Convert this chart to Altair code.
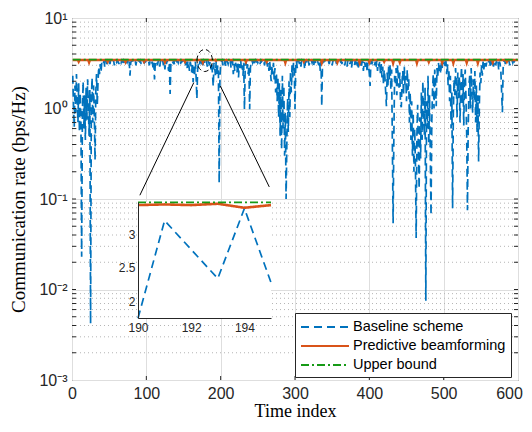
import altair as alt
import pandas as pd

# ---------------- data ----------------
TIME = list(range(1, 601))

BASELINE = [
    2.3, 1.1, 0.62, 1.8, 0.9, 2.4, 1.3, 0.7, 1.9, 0.55,
    1.5, 0.8, 0.023, 0.9, 2.0, 0.6, 1.4, 0.45, 1.7, 0.75,
    2.1, 1.0, 0.5, 1.6, 0.0042, 1.2, 2.2, 0.7, 1.8, 0.9,
    0.27, 1.5, 2.4, 1.1, 2.0, 2.9, 2.4, 3.1, 2.5, 3.2,
    3.3, 3.1, 3.35, 2.9, 3.4, 3.2, 3.3, 3.0, 3.4, 3.35,
    3.1, 3.4, 3.3, 3.2, 3.4, 3.38, 3.0, 3.3, 3.4, 3.25,
    3.4, 3.3, 3.1, 3.4, 3.35, 3.2, 3.4, 3.3, 3.4, 3.0,
    3.35, 3.4, 3.3, 3.2, 3.4, 3.1, 3.3, 2.3, 3.2, 3.4,
    3.35, 3.4, 3.2, 3.3, 3.4, 3.0, 3.4, 3.35, 3.2, 3.4,
    3.3, 3.4, 3.1, 3.35, 3.4, 3.3, 3.2, 3.4, 3.3, 3.4,
    3.4, 3.2, 3.35, 3.0, 3.3, 3.4, 3.1, 3.3, 2.8, 3.2,
    2.1, 3.1, 3.4, 3.3, 3.0, 3.35, 3.4, 2.9, 3.3, 3.4,
    3.2, 3.4, 3.0, 3.3, 2.7, 3.35, 3.1, 3.4, 3.0, 2.6,
    3.2, 1.45, 3.1, 3.4, 3.3, 3.2, 3.4, 3.0, 3.35, 3.4,
    3.3, 3.4, 3.2, 3.4, 3.35, 3.1, 3.4, 3.3, 3.4, 3.2,
    3.35, 3.4, 3.0, 3.3, 2.8, 3.4, 3.1, 2.6, 3.3, 3.0,
    2.5, 3.2, 1.95, 2.9, 2.4, 3.3, 2.2, 1.28, 2.7, 3.1,
    2.9, 3.3, 3.4, 3.2, 3.35, 3.0, 3.4, 3.3, 3.1, 3.4,
    3.3, 2.9, 3.4, 3.2, 3.0, 3.35, 2.7, 3.2, 2.4, 1.75,
    3.2, 2.77, 2.34, 3.38, 2.28, 3.0, 2.5, 0.15, 2.2, 3.1,
    3.3, 3.4, 3.0, 3.35, 3.2, 3.4, 2.9, 3.4, 3.3, 3.1,
    3.35, 3.2, 3.4, 2.8, 3.3, 3.4, 2.4, 3.1, 2.6, 3.2,
    3.0, 2.5, 3.3, 2.2, 3.1, 2.8, 3.4, 2.6, 3.0, 2.3,
    3.2, 0.98, 2.9, 3.3, 2.7, 3.1, 2.4, 3.0, 0.98, 2.8,
    3.3, 3.4, 3.2, 3.4, 3.35, 3.0, 3.4, 3.3, 3.4, 3.2,
    3.35, 3.4, 3.1, 3.4, 3.3, 3.4, 3.2, 3.35, 3.0, 3.4,
    3.3, 3.4, 2.9, 3.2, 2.6, 3.3, 2.5, 2.0, 3.0, 2.4,
    3.2, 2.1, 2.8, 1.5, 2.5, 1.2, 2.2, 0.8, 1.9, 0.5,
    1.6, 0.35, 2.3, 0.6, 1.8, 0.3, 0.9, 0.1, 0.4, 1.3,
    0.55, 2.0, 0.8, 2.6, 1.5, 3.0, 2.2, 3.2, 2.8, 0.98,
    3.1, 3.4, 2.8, 3.3, 3.4, 3.1, 3.35, 2.9, 3.4, 3.3,
    3.2, 3.4, 2.7, 3.3, 3.4, 3.1, 3.4, 3.35, 3.0, 3.4,
    3.3, 3.4, 3.2, 3.4, 2.9, 3.35, 3.4, 3.1, 3.3, 3.4,
    3.2, 3.0, 3.4, 2.6, 3.3, 1.06, 3.2, 3.4, 3.3, 3.4,
    3.4, 3.3, 3.2, 3.4, 3.35, 3.1, 3.4, 3.3, 3.4, 3.0,
    3.35, 3.4, 3.2, 3.4, 3.3, 3.1, 3.4, 3.35, 3.2, 3.4,
    3.3, 3.4, 3.1, 3.35, 3.4, 3.2, 3.0, 3.4, 3.3, 2.9,
    3.4, 3.2, 3.35, 3.1, 3.4, 2.8, 3.3, 3.4, 3.2, 3.0,
    3.4, 2.9, 3.3, 3.1, 2.7, 3.35, 3.0, 3.4, 2.8, 3.2,
    3.4, 2.6, 3.3, 3.1, 2.9, 3.4, 2.5, 3.2, 3.0, 2.4,
    1.77, 3.1, 3.4, 3.2, 3.35, 3.4, 3.0, 3.3, 2.8, 3.4,
    2.6, 3.2, 2.9, 3.35, 2.4, 3.1, 2.2, 2.9, 1.9, 2.7,
    2.2, 1.5, 1.06, 2.5, 1.8, 2.9, 2.1, 3.1, 1.6, 2.7,
    0.4, 0.054, 0.5, 2.3, 1.9, 2.8, 1.4, 3.0, 2.2, 1.7,
    2.5, 1.1, 1.03, 2.0, 2.6, 1.4, 2.9, 1.8, 2.3, 1.2,
    2.7, 1.6, 2.1, 0.7, 1.5, 0.45, 1.2, 0.3, 0.9, 0.2,
    0.6, 0.25, 0.037, 0.5, 1.1, 0.35, 0.13, 0.8, 0.28, 1.5,
    0.45, 2.0, 0.9, 0.5, 1.7, 0.0075, 1.2, 0.6, 2.3, 0.4,
    1.4, 0.3, 0.066, 0.7, 1.6, 2.4, 1.0, 2.7, 1.9, 1.06,
    2.8, 2.2, 3.2, 2.6, 3.0, 2.4, 3.3, 2.8, 3.4, 3.1,
    3.3, 2.9, 3.4, 2.4, 3.1, 1.8, 2.7, 1.2, 2.3, 0.6,
    1.5, 0.079, 0.9, 2.1, 1.4, 2.8, 1.9, 0.8, 2.5, 1.3,
    2.2, 0.7, 1.8, 2.9, 1.1, 2.4, 0.65, 1.9, 2.7, 1.3,
    0.5, 0.075, 0.6, 1.7, 2.3, 1.0, 2.8, 1.5, 0.9, 2.1,
    1.2, 2.6, 0.7, 1.8, 0.55, 1.4, 0.26, 1.1, 2.5, 1.9,
    3.0, 2.3, 3.3, 2.7, 3.1, 3.4, 2.9, 3.3, 3.4, 3.2,
    3.4, 3.3, 2.8, 3.35, 3.1, 3.4, 2.9, 3.3, 3.4, 3.0,
    3.35, 3.2, 3.4, 2.7, 3.3, 3.1, 2.5, 1.5, 0.91, 2.8,
    3.3, 3.4, 3.1, 3.35, 3.4, 3.2, 3.4, 3.3, 3.0, 3.4,
    3.35, 3.4, 3.2, 3.4, 3.3, 3.4, 3.35, 3.4, 3.3, 3.4,
]
assert len(BASELINE) == 600, len(BASELINE)

PRED_LEVEL = 3.43
PRED_DIPS = {
    9: 3.3, 23: 3.25, 48: 3.3, 72: 3.28, 97: 3.3, 125: 3.27, 152: 3.3, 176: 3.25,
    190: 3.43, 191: 3.44, 192: 3.43, 193: 3.45, 194: 3.39, 195: 3.43,
    234: 3.28, 262: 3.3, 287: 3.22, 312: 3.3, 336: 3.22, 357: 3.25, 387: 3.22,
    400: 3.25, 420: 3.3, 432: 3.2, 441: 3.25, 464: 3.2, 480: 3.28, 498: 3.22,
    513: 3.2, 531: 3.22, 546: 3.2, 566: 3.25, 585: 3.3,
}
PREDICTIVE = [PRED_DIPS.get(t, PRED_LEVEL) for t in TIME]
UPPER_LEVEL = 3.47
UPPER = [UPPER_LEVEL for t in TIME]

SERIES = ["Baseline scheme", "Predictive beamforming", "Upper bound"]
COLORS = ["#0072BD", "#D95319", "#169A16"]
DASHES = [[8, 5], [1, 0], [8, 3, 2, 3]]
WIDTHS = [1.7, 2.6, 1.6]

X_TICKS = [0, 100, 200, 300, 400, 500, 600]
Y_MAJOR = [0.001, 0.01, 0.1, 1, 10]
Y_MINOR = [m * 10.0 ** e for e in range(-3, 1) for m in range(2, 10)]

INSET_T = [190, 195]
INSET_Y = [1.754, 3.476]
INSET_XTICKS = [190, 192, 194]
INSET_YTICKS = [2, 2.5, 3]

# zoom annotation (ellipse + two connector lines), in data units
ELLIPSE = {"t": [178.5], "rate": [3.39]}
CONNECT = {"t": [163.8, 199.6], "rate": [1.93, 1.77], "t2": [91.3, 265.4], "rate2": [0.11, 0.136]}

# ---------------- layout ----------------
W, H = 446, 362
SANS = "Liberation Sans"
SERIF = "Liberation Serif"
INK = "#262626"

df = pd.DataFrame({"t": TIME, SERIES[0]: BASELINE, SERIES[1]: PREDICTIVE, SERIES[2]: UPPER})
long = df.melt("t", var_name="series", value_name="rate")

label_expr = ("datum.value >= 9 ? '10\u00b9' : datum.value >= 0.9 ? '10\u2070' : "
              "datum.value >= 0.09 ? '10\u207b\u00b9' : datum.value >= 0.009 ? '10\u207b\u00b2' : '10\u207b\u00b3'")

x_scale = alt.Scale(domain=[0, 600], nice=False, zero=False)
y_scale = alt.Scale(type="log", domain=[0.001, 10], nice=False)

x_axis = alt.Axis(values=X_TICKS, title="Time index", grid=True, gridColor="#dedede",
                  domain=False, ticks=False, labelPadding=5, labelFont=SANS, labelFontSize=16,
                  labelColor=INK, titleFont=SERIF, titleFontSize=18, titleFontWeight="normal",
                  titleColor="black", titlePadding=1, labelFlush=False,
                  labelOffset={"condition": {"test": "datum.value == 600", "value": -9}, "value": 0})
y_axis = alt.Axis(values=Y_MAJOR, labelExpr=label_expr, title="Communication rate (bps/Hz)",
                  grid=True, gridColor="#dedede", domain=False, ticks=False, labelPadding=5,
                  labelFont=SANS, labelFontSize=16, labelColor=INK, titleFont=SERIF,
                  titleFontSize=19, titleFontWeight="normal", titleColor="black", titlePadding=10,
                  labelFlush=False)


def X(field="t"):
    return alt.X(f"{field}:Q", scale=x_scale, axis=x_axis)


def Y(field="rate"):
    return alt.Y(f"{field}:Q", scale=y_scale, axis=y_axis)


legend = alt.Legend(title=None, orient="none", legendX=223, legendY=295, direction="vertical",
                    fillColor="white", strokeColor=INK, padding=5, labelFont=SANS,
                    labelFontSize=14.5, labelColor="black", symbolType="M -1 0 H 5",
                    symbolSize=256, symbolStrokeWidth=2, labelOffset=35, rowPadding=3,
                    labelLimit=300)
color = alt.Color("series:N", scale=alt.Scale(domain=SERIES, range=COLORS), legend=legend)
dash = alt.StrokeDash("series:N", scale=alt.Scale(domain=SERIES, range=DASHES), legend=legend)

minor_df = pd.DataFrame({"rate": Y_MINOR})
ytick_df = pd.DataFrame({"rate": Y_MAJOR[1:-1] + Y_MINOR})
xtick_df = pd.DataFrame({"t": X_TICKS[1:-1]})

minor_grid = alt.Chart(minor_df).mark_rule(color="#b5b5b5", strokeDash=[1, 3], strokeWidth=1).encode(
    y=Y(), x=alt.value(0), x2=alt.value(W))
ytick_l = alt.Chart(ytick_df).mark_rule(color=INK, strokeWidth=1).encode(
    y=Y(), x=alt.value(0), x2=alt.value(4))
ytick_r = alt.Chart(ytick_df).mark_rule(color=INK, strokeWidth=1).encode(
    y=Y(), x=alt.value(W - 4), x2=alt.value(W))
xtick_b = alt.Chart(xtick_df).mark_rule(color=INK, strokeWidth=1).encode(
    x=X(), y=alt.value(H - 4), y2=alt.value(H))
xtick_t = alt.Chart(xtick_df).mark_rule(color=INK, strokeWidth=1).encode(
    x=X(), y=alt.value(0), y2=alt.value(4))

lines = []
for s, w in zip(SERIES, WIDTHS):
    lines.append(
        alt.Chart(long).transform_filter(alt.datum.series == s)
        .mark_line(strokeWidth=w, clip=True)
        .encode(x=X(), y=Y(), color=color, strokeDash=dash, order="t:Q")
    )

connect = alt.Chart(pd.DataFrame(CONNECT)).mark_rule(color="black", strokeWidth=1).encode(
    x=X(), y=Y(), x2="t2:Q", y2="rate2:Q")
ellipse = alt.Chart(pd.DataFrame(ELLIPSE)).mark_point(
    shape="M -0.7 0 A 0.7 1 0 1 1 0.7 0 A 0.7 1 0 1 1 -0.7 0 Z",
    size=484, filled=False, color="black", strokeWidth=1, strokeDash=[5, 3], opacity=1
).encode(x=X(), y=Y())

main = alt.layer(minor_grid, *lines, connect, ellipse, ytick_l, ytick_r, xtick_b, xtick_t)

# ---------------- inset ----------------
ix_scale = alt.Scale(domain=INSET_T, range=[66, 199], nice=False, zero=False)
iy_scale = alt.Scale(domain=INSET_Y, range=[300, 184], nice=False, zero=False)
ix_axis = alt.Axis(orient="bottom", offset=-(H - 300), values=INSET_XTICKS, title=None, grid=False,
                   domainColor=INK, domainWidth=1, ticks=False, labelPadding=4, labelFont=SANS,
                   labelFontSize=12, labelColor=INK, zindex=1, labelFlush=False, format="~g")
iy_axis = alt.Axis(orient="left", offset=-66, values=INSET_YTICKS, title=None, grid=False,
                   domainColor=INK, domainWidth=1, ticks=False, labelPadding=3, labelFont=SANS,
                   labelFontSize=12, labelColor=INK, zindex=1, labelFlush=False, format="~g")

inset_df = long[(long.t >= INSET_T[0]) & (long.t <= INSET_T[1])]
bg = alt.Chart(pd.DataFrame({"t": [INSET_T[0]], "t2": [INSET_T[1]], "rate": [INSET_Y[0]],
                             "rate2": [INSET_Y[1]]})).mark_rect(fill="white").encode(
    x=alt.X("t:Q", scale=ix_scale, axis=ix_axis), x2="t2:Q",
    y=alt.Y("rate:Q", scale=iy_scale, axis=iy_axis), y2="rate2:Q")
inset_lines = []
for s, c, d, w in zip(SERIES, COLORS, DASHES, WIDTHS):
    inset_lines.append(
        alt.Chart(inset_df).transform_filter(alt.datum.series == s)
        .mark_line(color=c, strokeDash=d, strokeWidth=w, clip=True)
        .encode(x=alt.X("t:Q", scale=ix_scale, axis=ix_axis),
                y=alt.Y("rate:Q", scale=iy_scale, axis=iy_axis), order="t:Q")
    )
inset = alt.layer(bg, *inset_lines)

chart = (
    alt.layer(main, inset)
    .resolve_scale(x="independent", y="independent")
    .properties(width=W, height=H, background="white",
                autosize=alt.AutoSizeParams(type="none"),
                padding={"left": 64, "top": 10, "right": 6, "bottom": 416 - 10 - H})
    .configure_view(stroke=INK, strokeWidth=1)
)

chart.save("out.html", embed_options={"renderer": "svg", "actions": False})
